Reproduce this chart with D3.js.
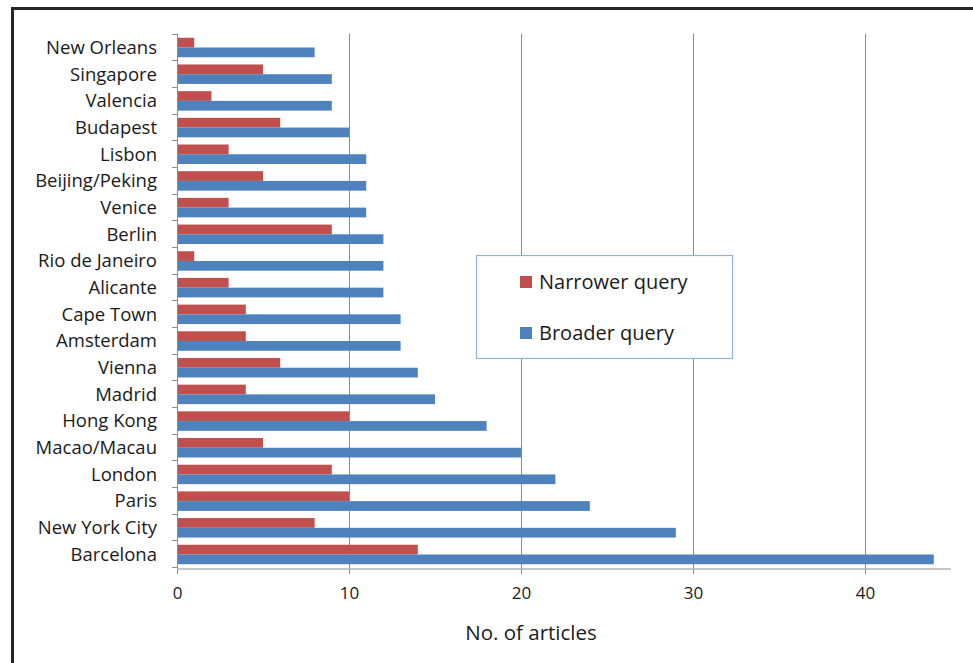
<!DOCTYPE html>
<html>
<head>
<meta charset="utf-8">
<script src="https://cdn.jsdelivr.net/npm/d3@7"></script>
<style>
  html, body { margin: 0; padding: 0; background: #fff; }
  svg { display: block; font-family: "Open Sans", sans-serif; }
</style>
</head>
<body>
<svg id="chart" width="973" height="663"></svg>
<script>
// Cities, listed top to bottom
const cities = ["New Orleans", "Singapore", "Valencia", "Budapest", "Lisbon",
  "Beijing/Peking", "Venice", "Berlin", "Rio de Janeiro", "Alicante",
  "Cape Town", "Amsterdam", "Vienna", "Madrid", "Hong Kong",
  "Macao/Macau", "London", "Paris", "New York City", "Barcelona"];

// Article counts per city
const narrowerQuery = [1, 5, 2, 6, 3, 5, 3, 9, 1, 3, 4, 4, 6, 4, 10, 5, 9, 10, 8, 14];
const broaderQuery  = [8, 9, 9, 10, 11, 11, 11, 12, 12, 12, 13, 13, 14, 15, 18, 20, 22, 24, 29, 44];

const seriesNames = ["Narrower query", "Broader query"];
const seriesColors = ["#C0504D", "#4F81BD"];
const xTicks = [0, 10, 20, 30, 40];
const xMax = 45;

const svg = d3.select("#chart");

// Outer frame (top and left edges)
svg.append("line").attr("x1", 12.5).attr("x2", 973).attr("y1", 8.5).attr("y2", 8.5)
  .attr("stroke", "#262626").attr("stroke-width", 3);
svg.append("line").attr("x1", 12.5).attr("x2", 12.5).attr("y1", 7).attr("y2", 663)
  .attr("stroke", "#262626").attr("stroke-width", 3);

const plot = { left: 177, right: 951, top: 33.5, bottom: 568.5 };

const x = d3.scaleLinear().domain([0, xMax]).range([plot.left, plot.right]);
const y = d3.scaleBand().domain(cities).range([plot.top, plot.bottom])
  .paddingInner(0.27).paddingOuter(0.16);
const ySub = d3.scaleBand().domain(seriesNames).range([0, y.bandwidth()]);

// Vertical gridlines
svg.append("g").selectAll("line").data(xTicks.filter(t => t > 0)).join("line")
  .attr("x1", d => Math.round(x(d)) + 0.5).attr("x2", d => Math.round(x(d)) + 0.5)
  .attr("y1", plot.top).attr("y2", plot.bottom)
  .attr("stroke", "#8c8c8c").attr("stroke-width", 1);

// Bars
const rows = cities.map((c, i) => ({ city: c, values: [narrowerQuery[i], broaderQuery[i]] }));
const groups = svg.append("g").selectAll("g").data(rows).join("g")
  .attr("transform", d => `translate(0,${y(d.city)})`);
groups.selectAll("rect").data(d => d.values.map((v, k) => ({ v, k }))).join("rect")
  .attr("x", x(0))
  .attr("y", d => ySub(seriesNames[d.k]))
  .attr("width", d => x(d.v) - x(0))
  .attr("height", ySub.bandwidth())
  .attr("fill", d => seriesColors[d.k]);

// X axis
const xAxis = d3.axisBottom(x).tickValues(xTicks).tickSize(5).tickPadding(13).tickFormat(d3.format("d"));
const gx = svg.append("g").attr("transform", `translate(0,${plot.bottom + 0.5})`).call(xAxis);
gx.select(".domain").attr("stroke", "#8c8c8c").attr("d", `M${plot.left},0H${plot.right}`);
gx.selectAll(".tick line").attr("stroke", "#8c8c8c");
gx.selectAll(".tick text").attr("font-size", 17).attr("fill", "#1a1a1a")
  .attr("font-family", "'Open Sans', sans-serif");

// Y axis with ticks at category boundaries
const boundaries = d3.range(cities.length + 1).map(i => plot.top + i * y.step());
const gy = svg.append("g");
gy.append("line").attr("x1", plot.left + 0.5).attr("x2", plot.left + 0.5)
  .attr("y1", plot.top).attr("y2", plot.bottom).attr("stroke", "#8c8c8c");
gy.selectAll("line.tk").data(boundaries).join("line").attr("class", "tk")
  .attr("x1", plot.left - 5).attr("x2", plot.left)
  .attr("y1", d => Math.round(d) + 0.5).attr("y2", d => Math.round(d) + 0.5)
  .attr("stroke", "#8c8c8c");
gy.selectAll("text").data(cities).join("text")
  .attr("x", 157)
  .attr("y", d => plot.top + cities.indexOf(d) * y.step() + y.step() / 2)
  .attr("dy", "0.38em")
  .attr("text-anchor", "end")
  .attr("font-size", 18.5)
  .attr("fill", "#1a1a1a")
  .text(d => d);

// Axis title
svg.append("text").attr("x", 531).attr("y", 640).attr("text-anchor", "middle")
  .attr("font-size", 20.5).attr("fill", "#1a1a1a").text("No. of articles");

// Legend
const legend = svg.append("g").attr("transform", "translate(476,255)");
legend.append("rect").attr("x", 0.5).attr("y", 0.5).attr("width", 256).attr("height", 103)
  .attr("fill", "#fff").attr("stroke", "#95B3D7").attr("stroke-width", 1.2);
const items = legend.selectAll("g").data(seriesNames).join("g")
  .attr("transform", (d, i) => `translate(44,${21 + i * 51})`);
items.append("rect").attr("width", 12).attr("height", 12)
  .attr("fill", (d, i) => seriesColors[i]);
items.append("text").attr("x", 19).attr("y", 6).attr("dy", "0.36em")
  .attr("font-size", 20).attr("fill", "#1a1a1a").text(d => d);
</script>
</body>
</html>
